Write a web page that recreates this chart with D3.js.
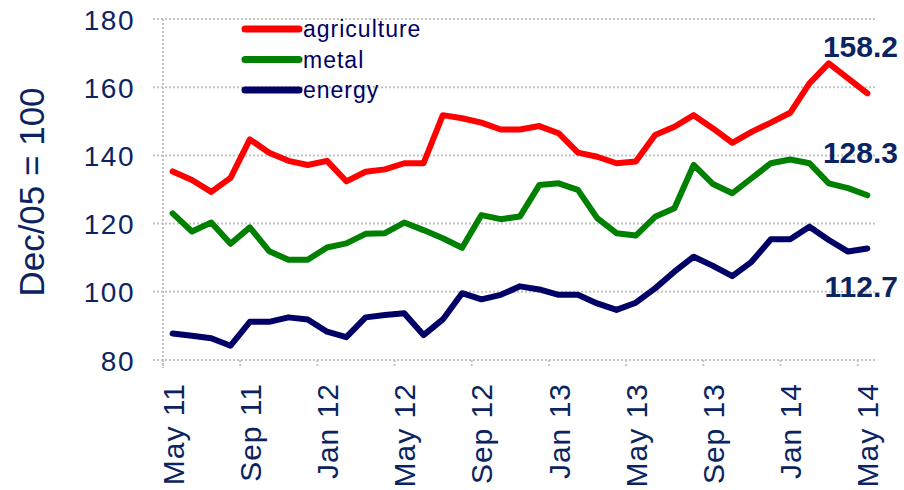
<!DOCTYPE html>
<html>
<head>
<meta charset="utf-8">
<script src="https://cdn.jsdelivr.net/npm/d3@7"></script>
<style>
  body { margin: 0; background: #fff; }
  text { font-family: "Liberation Sans", Arial, sans-serif; }
</style>
</head>
<body>
<svg id="chart" width="904" height="490"></svg>
<script>
// monthly categories, May 2011 .. May 2014
var months = ['May 11', 'Jun 11', 'Jul 11', 'Aug 11', 'Sep 11', 'Oct 11', 'Nov 11', 'Dec 11',
    'Jan 12', 'Feb 12', 'Mar 12', 'Apr 12', 'May 12', 'Jun 12', 'Jul 12', 'Aug 12',
    'Sep 12', 'Oct 12', 'Nov 12', 'Dec 12', 'Jan 13', 'Feb 13', 'Mar 13', 'Apr 13',
    'May 13', 'Jun 13', 'Jul 13', 'Aug 13', 'Sep 13', 'Oct 13', 'Nov 13', 'Dec 13',
    'Jan 14', 'Feb 14', 'Mar 14', 'Apr 14', 'May 14'];

var agriculture = [135.3, 132.8, 129.3, 133.4, 144.7, 140.8, 138.4, 137.2, 138.4, 132.4,
    135.2, 135.9, 137.7, 137.7, 151.8, 150.9, 149.6, 147.6, 147.6, 148.6,
    146.5, 140.8, 139.6, 137.7, 138.2, 146.0, 148.4, 151.8, 147.9, 143.7,
    146.9, 149.6, 152.5, 161.1, 167.0, 162.6, 158.2];

var metal = [123.0, 117.7, 120.3, 114.1, 118.9, 111.9, 109.4, 109.4, 113.0, 114.2,
    117.0, 117.2, 120.3, 118.1, 115.7, 112.9, 122.5, 121.3, 122.1, 131.3,
    131.8, 129.9, 121.6, 117.2, 116.5, 122.0, 124.5, 137.2, 131.6, 128.9,
    133.3, 137.7, 138.8, 137.7, 131.8, 130.4, 128.3];

var energy = [87.8, 87.1, 86.4, 84.2, 91.2, 91.2, 92.5, 91.9, 88.3, 86.7,
    92.5, 93.2, 93.7, 87.3, 91.9, 99.6, 97.8, 99.1, 101.6, 100.7,
    99.1, 99.1, 96.6, 94.7, 96.8, 101.0, 105.9, 110.3, 107.6, 104.6,
    108.8, 115.4, 115.4, 119.1, 115.2, 111.8, 112.7];

var yTicks = [80, 100, 120, 140, 160, 180];

var series = [
    {name: 'agriculture', values: agriculture, color: '#ff0000'},
    {name: 'metal', values: metal, color: '#008000'},
    {name: 'energy', values: energy, color: '#000066'}
];

var textColor = '#0b2461';
var gridColor = '#c4c4c4';

var svg = d3.select('#chart');
var plotLeft = 163, plotRight = 877, plotTop = 19, plotBottom = 360;

var x = d3.scaleBand().domain(months).range([plotLeft, plotRight]);
var y = d3.scaleLinear().domain([80, 180]).range([plotBottom, plotTop]);

// gridlines (dotted), extended left as tick marks
svg.append('g').selectAll('line').data(yTicks).enter().append('line')
    .attr('x1', plotLeft - 10).attr('x2', plotRight)
    .attr('y1', function (d) { return y(d); })
    .attr('y2', function (d) { return y(d); })
    .style('stroke', gridColor).style('stroke-width', 2)
    .style('stroke-dasharray', '2,2');

// vertical axis line
svg.append('line')
    .attr('x1', plotLeft).attr('x2', plotLeft)
    .attr('y1', plotTop).attr('y2', plotBottom + 8)
    .style('stroke', gridColor).style('stroke-width', 2)
    .style('stroke-dasharray', '2,2');

// x tick marks between categories, every 4 months
var tickMonths = months.filter(function (d, i) { return i % 4 === 0; });
svg.append('g').selectAll('line').data(tickMonths).enter().append('line')
    .attr('x1', function (d) { return x(d); })
    .attr('x2', function (d) { return x(d); })
    .attr('y1', plotBottom).attr('y2', plotBottom + 8)
    .style('stroke', gridColor).style('stroke-width', 2)
    .style('stroke-dasharray', '2,2');

// y axis labels
var yAxis = d3.axisLeft(y).tickValues(yTicks).tickSize(0).tickPadding(0);
var yG = svg.append('g').attr('transform', 'translate(' + (plotLeft - 28) + ',0)').call(yAxis);
yG.select('.domain').remove();
yG.selectAll('text')
    .style('font-size', '28px')
    .style('letter-spacing', '1.5px')
    .style('fill', textColor)
    .attr('dy', '0.36em');

// x axis labels, rotated
svg.append('g').selectAll('text').data(tickMonths).enter().append('text')
    .attr('transform', function (d) {
        return 'translate(' + (x(d) + x.bandwidth() / 2 + 11) + ',383) rotate(-90)';
    })
    .style('text-anchor', 'end')
    .style('font-size', '30px')
    .style('letter-spacing', '1px')
    .style('fill', textColor)
    .text(function (d) { return d; });

// y axis title
svg.append('text')
    .attr('transform', 'translate(44,192) rotate(-90)')
    .style('text-anchor', 'middle')
    .style('font-size', '35px')
    .style('fill', textColor)
    .text('Dec/05 = 100');

// series lines
var line = d3.line()
    .x(function (d, i) { return x(months[i]) + x.bandwidth() / 2; })
    .y(function (d) { return y(d); });

svg.append('g').selectAll('path').data(series).enter().append('path')
    .attr('d', function (d) { return line(d.values); })
    .style('fill', 'none')
    .style('stroke', function (d) { return d.color; })
    .style('stroke-width', 6)
    .style('stroke-linejoin', 'round')
    .style('stroke-linecap', 'round');

// legend
var legend = svg.append('g').selectAll('g').data(series).enter().append('g')
    .attr('transform', function (d, i) { return 'translate(0,' + (29 + i * 30.5) + ')'; });
legend.append('line')
    .attr('x1', 245).attr('x2', 299).attr('y1', 0).attr('y2', 0)
    .style('stroke', function (d) { return d.color; })
    .style('stroke-width', 7)
    .style('stroke-linecap', 'round');
legend.append('text')
    .attr('x', 303).attr('y', 8)
    .style('font-size', '23px')
    .style('letter-spacing', '1px')
    .style('fill', '#000066')
    .text(function (d) { return d.name; });

// last-value labels
var endLabels = [
    {value: agriculture[agriculture.length - 1], y: 57},
    {value: metal[metal.length - 1], y: 163},
    {value: energy[energy.length - 1], y: 297}
];
svg.append('g').selectAll('text').data(endLabels).enter().append('text')
    .attr('x', 898).attr('y', function (d) { return d.y; })
    .style('text-anchor', 'end')
    .style('font-size', '30px')
    .style('font-weight', 'bold')
    .style('fill', textColor)
    .text(function (d) { return d.value.toFixed(1); });
</script>
</body>
</html>
